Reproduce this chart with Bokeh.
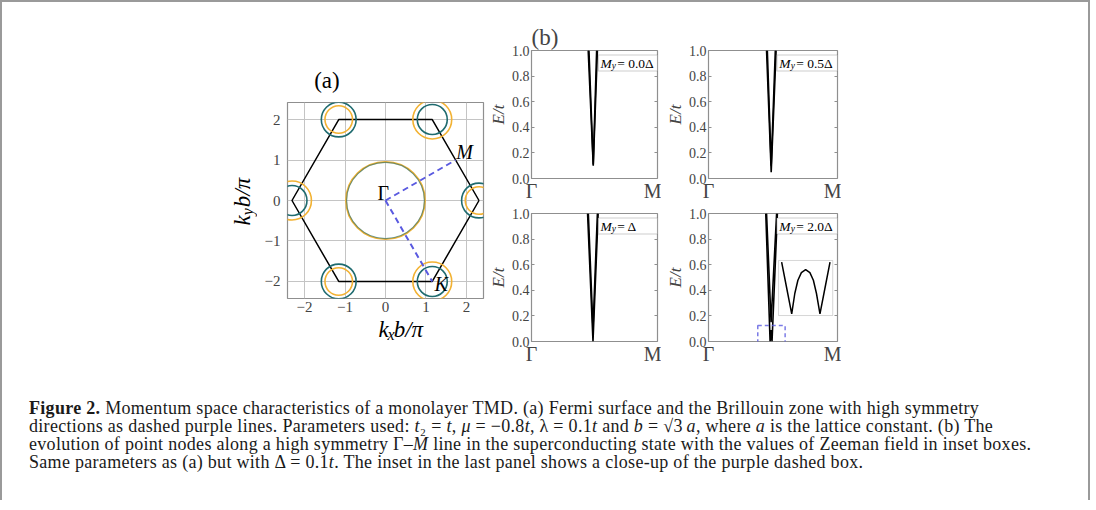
import math
from bokeh.plotting import figure
from bokeh.models import (Range1d, FixedTicker, Label, BoxAnnotation, Div, Spacer,
                          Title, LinearAxis)
from bokeh.layouts import row, column
from bokeh.embed import file_html
from bokeh.resources import INLINE

SERIF = "Liberation Serif"
ORANGE = "#f2b233"
TEAL = "#1f6b6f"
PURPLE = "#5a5ae0"
FRAME = "#8f8f8f"

# ---------------- data: panel (a) ----------------
ticks_a = [-2, -1, 0, 1, 2]
tick_labels_a = ["\u22122", "\u22121", "0", "1", "2"]
bz_kx = [2.309, 1.155, -1.155, -2.309, -1.155, 1.155, 2.309]
bz_ky = [0.0, 2.0, 2.0, 0.0, -2.0, -2.0, 0.0]
pocket_kx = [2.309, 1.155, -1.155, -2.309, -1.155, 1.155]
pocket_ky = [0.0, 2.0, 2.0, 0.0, -2.0, -2.0]
teal_r = [0.43, 0.37, 0.43, 0.37, 0.43, 0.37]
orange_r = [0.34, 0.48, 0.34, 0.48, 0.34, 0.48]
gamma_pocket_w = [1.95, 1.92]
gamma_pocket_h = [1.91, 1.88]
path_gm_x = [0.0, 1.732]
path_gm_y = [0.0, 1.0]
path_gk_x = [0.0, 1.155]
path_gk_y = [0.0, -2.0]

# ---------------- data: panel (b) ----------------
ticks_b = [0.0, 0.2, 0.4, 0.6, 0.8, 1.0]
tick_labels_b = ["0.0", "0.2", "0.4", "0.6", "0.8", "1.0"]
path_ticks = [0.0, 1.0]
path_labels = ["\u0393", "M"]
zeeman_text = ["= 0.0\u0394", "= 0.5\u0394", "= \u0394", "= 2.0\u0394"]
outer_k = [[0.450, 0.490, 0.523], [0.450, 0.486, 0.524], [0.445, 0.488, 0.529],
           [0.444, 0.4775, 0.485, 0.4925, 0.534]]
outer_E = [[1.0, 0.10, 1.0], [1.0, 0.05, 1.0], [1.0, 0.0, 1.0],
           [1.0, 0.0, 0.09, 0.0, 1.0]]
inner_k = [[0.456, 0.490, 0.517], [0.456, 0.486, 0.518], [0.451, 0.488, 0.523],
           [0.450, 0.485, 0.528]]
inner_E = [[1.0, 0.11, 1.0], [1.0, 0.10, 1.0], [1.0, 0.10, 1.0], [1.0, 0.15, 1.0]]
inset_k = [0.4788, 0.4801, 0.4814, 0.4822, 0.4830, 0.4839, 0.4850, 0.4861,
           0.4870, 0.4878, 0.4887, 0.4900, 0.4913]
inset_E = [0.1116, 0.0575, 0.0035, 0.046, 0.0736, 0.0897, 0.096, 0.0897,
           0.0736, 0.046, 0.0035, 0.0575, 0.1116]


def lab(p, x, y, text, size, style="normal", align="left", baseline="middle",
        angle=0.0, color="black"):
    p.add_layout(Label(x=x, y=y, text=text, text_font=SERIF,
                       text_font_size=f"{size}px", text_font_style=style,
                       text_align=align, text_baseline=baseline, angle=angle,
                       text_color=color))


def strip(w, h):
    s = figure(width=w, height=h, x_range=Range1d(0, w), y_range=Range1d(0, h),
               min_border=0, x_axis_type=None, y_axis_type=None,
               toolbar_location=None, tools="", output_backend="svg")
    s.outline_line_color = None
    s.grid.visible = False
    return s


# ---------------- panel (a) ----------------
A0, A1, AF = -2.42, 2.42, 196
pa = figure(width=30 + AF + 2, height=2 + AF + 20,
            x_range=Range1d(A0, A1), y_range=Range1d(A0, A1),
            min_border_left=30, min_border_right=2, min_border_top=2,
            min_border_bottom=20, toolbar_location=None, tools="",
            output_backend="svg")
pa.outline_line_color = FRAME
pa.outline_line_width = 1.2
for ax in (pa.xaxis[0], pa.yaxis[0]):
    ax.ticker = FixedTicker(ticks=ticks_a)
    ax.major_label_overrides = {t: s for t, s in zip(ticks_a, tick_labels_a)}
    ax.major_label_text_font = SERIF
    ax.major_label_text_font_size = "15px"
    ax.major_tick_in = 0
    ax.major_tick_out = 0
    ax.minor_tick_line_color = None
    ax.axis_line_color = None
pa.xaxis.major_label_standoff = 3
pa.yaxis.major_label_standoff = 7
for g in (pa.xgrid[0], pa.ygrid[0]):
    g.ticker = FixedTicker(ticks=ticks_a)
    g.grid_line_color = "#c4c4c4"
    g.grid_line_width = 1

pa.line(bz_kx, bz_ky, line_color="black", line_width=1.5)
pa.circle(pocket_kx, pocket_ky, radius=orange_r, fill_color=None,
          line_color=ORANGE, line_width=1.6)
pa.circle(pocket_kx, pocket_ky, radius=teal_r, fill_color=None,
          line_color=TEAL, line_width=1.6)
pa.ellipse([0.0], [0.0], width=gamma_pocket_w[0], height=gamma_pocket_h[0],
           fill_color=None, line_color=ORANGE, line_width=1.8)
pa.ellipse([0.0], [0.0], width=gamma_pocket_w[1], height=gamma_pocket_h[1],
           fill_color=None, line_color=TEAL, line_width=1.2, line_alpha=0.6)
pa.line(path_gm_x, path_gm_y, line_color=PURPLE, line_width=2, line_dash="6 4")
pa.line(path_gk_x, path_gk_y, line_color=PURPLE, line_width=2, line_dash="6 4")

lab(pa, -0.2, 0.18, "\u0393", 20)
lab(pa, path_gm_x[1] + 0.22, path_gm_y[1] + 0.2, "M", 20, style="italic", align="center")
lab(pa, path_gk_x[1] + 0.22, path_gk_y[1] - 0.05, "K", 20, style="italic", align="center")

# strips around panel (a): title, x label, y label
a_top = strip(228, 98)
lab(a_top, 31, 20, "(a)", 23)
a_xlab = strip(228, 30)
lab(a_xlab, 106, 19, "k", 23, style="italic")
lab(a_xlab, 116.2, 14, "x", 16, style="italic")
lab(a_xlab, 123.5, 19, "b/\u03c0", 23, style="italic")
a_ylab = strip(45, 346)
rot = math.pi / 2
lab(a_ylab, 30, 123, "k", 23, style="italic", angle=rot)
lab(a_ylab, 35, 133.2, "y", 16, style="italic", angle=rot)
lab(a_ylab, 30, 141.3, "b/\u03c0", 23, style="italic", angle=rot)

# ---------------- panels (b) ----------------
FW, FH = 129, 128


def panel_b(i, left, top, bottom):
    p = figure(width=left + FW + 4, height=top + FH + bottom,
               x_range=Range1d(0, 1), y_range=Range1d(0, 1),
               min_border_left=left, min_border_right=4, min_border_top=top,
               min_border_bottom=bottom, toolbar_location=None, tools="",
               output_backend="svg")
    p.outline_line_color = FRAME
    p.outline_line_width = 1.2
    p.grid.visible = False
    ax = p.yaxis[0]
    ax.ticker = FixedTicker(ticks=ticks_b)
    ax.major_label_overrides = {t: s for t, s in zip(ticks_b, tick_labels_b)}
    ax.major_label_text_font = SERIF
    ax.major_label_text_font_size = "14px"
    ax.major_label_standoff = 2
    ax.major_tick_in = 3
    ax.major_tick_out = 0
    ax.major_tick_line_color = FRAME
    ax.minor_tick_line_color = None
    ax.axis_line_color = None
    ax.axis_label = "E/t"
    ax.axis_label_text_font = SERIF
    ax.axis_label_text_font_style = "italic"
    ax.axis_label_text_font_size = "17px"
    ax.axis_label_standoff = 1
    # mirrored ticks on the right edge, no labels
    rax = LinearAxis(ticker=FixedTicker(ticks=ticks_b[1:-1]),
                     major_label_overrides={t: "" for t in ticks_b[1:-1]},
                     major_label_standoff=0, major_tick_in=3, major_tick_out=0,
                     major_tick_line_color=FRAME, minor_tick_line_color=None,
                     axis_line_color=None)
    p.add_layout(rax, "right")
    xa = p.xaxis[0]
    xa.ticker = FixedTicker(ticks=path_ticks)
    xa.major_label_overrides = {t: s for t, s in zip(path_ticks, path_labels)}
    xa.major_label_text_font = SERIF
    xa.major_label_text_font_size = "20px"
    xa.major_label_standoff = 1
    xa.major_tick_in = 0
    xa.major_tick_out = 0
    xa.minor_tick_line_color = None
    xa.axis_line_color = None

    p.line(outer_k[i], outer_E[i], line_color="black", line_width=1.6)
    p.line(inner_k[i], inner_E[i], line_color="black", line_width=1.6)

    s = 1.0 / FW
    p.add_layout(BoxAnnotation(left=0.53, right=1.0, bottom=0.84, top=0.965,
                               fill_color="white", fill_alpha=1.0,
                               line_color="#555555", line_width=1.2))
    lab(p, 0.548, 0.902, "M", 13.5, style="italic")
    lab(p, 0.548 + 11.5 * s, 0.902 - 3.0 / FH, "y", 9.5, style="italic")
    lab(p, 0.548 + 17.0 * s, 0.902, zeeman_text[i], 13.5)
    return p


p1 = panel_b(0, 43, 48, 27)
p2 = panel_b(1, 47, 48, 27)
p3 = panel_b(2, 43, 8, 30)
p4 = panel_b(3, 47, 8, 30)
p1.add_layout(Title(text="(b)", align="left", text_font=SERIF,
                    text_font_size="23px", text_font_style="normal",
                    standoff=2, offset=0), "above")

# inset of panel 4
p4.add_layout(BoxAnnotation(left=0.543, right=0.963, bottom=0.203, top=0.633,
                            fill_color="white", fill_alpha=1.0,
                            line_color="#777777", line_width=1.0, level="underlay"))
sub = p4.subplot(x_source=Range1d(0.478, 0.492), y_source=Range1d(0.0, 0.115),
                 x_target=Range1d(0.543, 0.963), y_target=Range1d(0.203, 0.633))
sub.line(inset_k, inset_E, line_color="black", line_width=1.5)
p4.add_layout(BoxAnnotation(left=0.382, right=0.594, bottom=-0.086, top=0.125,
                            fill_alpha=0.0, line_color=PURPLE, line_alpha=0.8,
                            line_dash="4 3", line_width=1.5))

# ---------------- caption ----------------
cap_html = (
    '<div style="font-family:\'Liberation Serif\',serif;font-size:18px;'
    'letter-spacing:0.3px;line-height:18px;color:#1a1a1a;white-space:nowrap;'
    'padding-left:22px;">'
    '<b>Figure 2.</b> Momentum space characteristics of a monolayer TMD. (a) Fermi '
    'surface and the Brillouin zone with high symmetry<br>'
    'directions as dashed purple lines. Parameters used: <i>t</i>\u2082 = <i>t</i>, '
    '<i>\u03bc</i> = \u22120.8<i>t</i>, \u03bb = 0.1<i>t</i> and <i>b</i> = '
    '\u221a3\u2009<i>a</i>, where <i>a</i> '
    'is the lattice constant. (b) The<br>'
    'evolution of point nodes along a high symmetry \u0393\u2013<i>M</i> line in the '
    'superconducting state with the values of Zeeman field in inset boxes.<br>'
    'Same parameters as (a) but with \u0394 = 0.1<i>t</i>. The inset in the last panel '
    'shows a close-up of the purple dashed box.</div>'
)
cap = Div(text=cap_html, width=1076, height=96)

group_a = row(a_ylab, column(a_top, pa, a_xlab))
top_row = row(Spacer(width=210, height=10), group_a, column(p1, p3), column(p2, p4))
root = column(top_row, Spacer(width=10, height=23), cap,
              styles={"border-top": "2px solid #9a9a9a",
                      "border-left": "2px solid #9a9a9a",
                      "border-right": "2px solid #9a9a9a"})

open("out.html", "w").write(file_html(root, INLINE))
